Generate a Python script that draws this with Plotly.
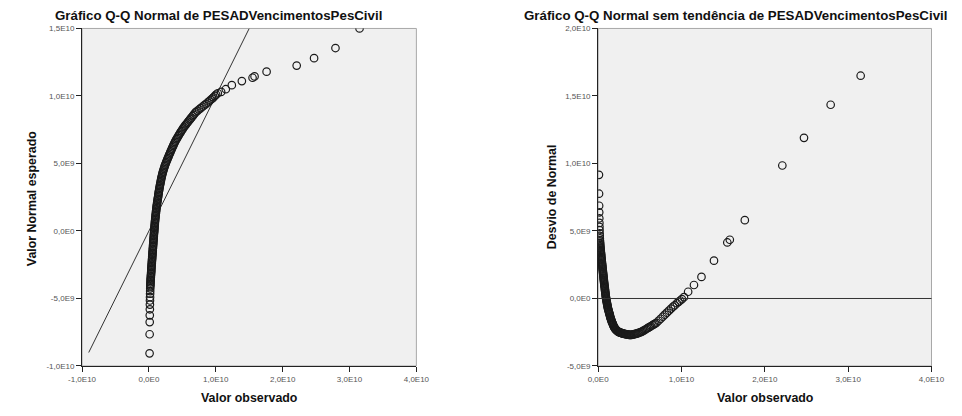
import plotly.graph_objects as go

# ---- data (values in billions) ----
# expected normal value (y) and observed value (x), sorted by rank
expected_bn = [
    -9.06, -7.65, -6.75, -6.25, -5.80, -5.45, -5.15, -4.90, -4.65, -4.45, -4.25, -4.10,
    -4.0, -3.9, -3.8, -3.7, -3.6, -3.5, -3.4, -3.3, -3.2, -3.1,
    -3.0, -2.9, -2.8, -2.7, -2.6, -2.5, -2.4, -2.3, -2.2, -2.1,
    -2.0, -1.9, -1.8, -1.7, -1.6, -1.5, -1.4, -1.3, -1.2, -1.1,
    -1.0, -0.9, -0.8, -0.7, -0.6, -0.5, -0.4, -0.3, -0.2, -0.1,
    0.0, 0.1, 0.2, 0.3, 0.4, 0.5, 0.6, 0.7, 0.8, 0.9,
    1.0, 1.1, 1.2, 1.3, 1.4, 1.5, 1.6, 1.7, 1.8, 1.9,
    2.0, 2.1, 2.2, 2.3, 2.4, 2.5, 2.6, 2.7, 2.8, 2.9,
    3.0, 3.1, 3.2, 3.3, 3.4, 3.5, 3.6, 3.7, 3.8, 3.9,
    4.0, 4.1, 4.2, 4.3, 4.4, 4.5, 4.6, 4.7, 4.8, 4.9,
    5.0, 5.1, 5.2, 5.3, 5.4, 5.5, 5.6, 5.7, 5.8, 5.9,
    6.0, 6.1, 6.2, 6.3, 6.4, 6.5, 6.6, 6.7, 6.8, 6.9,
    7.0, 7.1, 7.2, 7.3, 7.4, 7.5, 7.6, 7.7, 7.8, 7.9,
    8.0, 8.1, 8.2, 8.3, 8.4, 8.5, 8.6, 8.7, 8.8, 8.9,
    9.0, 9.1, 9.2, 9.3, 9.4, 9.5, 9.6, 9.7, 9.8, 9.9,
    10.0, 10.1, 10.2, 10.3,
    10.50, 10.80, 11.10, 11.35, 11.45, 11.80, 12.25, 12.80, 13.55, 15.00,
]
observed_bn = [
    0.10, 0.11, 0.12, 0.13, 0.14, 0.15, 0.16, 0.17, 0.18, 0.19, 0.20, 0.21,
    0.22, 0.23, 0.24, 0.25, 0.26, 0.27, 0.29, 0.30, 0.32, 0.33,
    0.35, 0.36, 0.37, 0.38, 0.40, 0.41, 0.43, 0.44, 0.46, 0.47,
    0.49, 0.50, 0.52, 0.53, 0.55, 0.56, 0.58, 0.59, 0.61, 0.62,
    0.64, 0.65, 0.67, 0.68, 0.70, 0.71, 0.73, 0.74, 0.76, 0.78,
    0.80, 0.81, 0.83, 0.84, 0.86, 0.88, 0.89, 0.91, 0.93, 0.95,
    0.97, 0.99, 1.01, 1.04, 1.06, 1.08, 1.11, 1.13, 1.15, 1.18,
    1.21, 1.24, 1.27, 1.30, 1.33, 1.36, 1.40, 1.42, 1.45, 1.48,
    1.52, 1.55, 1.59, 1.62, 1.66, 1.70, 1.74, 1.78, 1.82, 1.86,
    1.90, 1.95, 2.00, 2.05, 2.11, 2.17, 2.23, 2.30, 2.36, 2.43,
    2.51, 2.59, 2.67, 2.75, 2.84, 2.92, 3.00, 3.09, 3.18, 3.26,
    3.35, 3.44, 3.53, 3.62, 3.71, 3.80, 3.91, 4.00, 4.12, 4.24,
    4.36, 4.48, 4.60, 4.72, 4.85, 4.98, 5.11, 5.25, 5.40, 5.56,
    5.72, 5.88, 6.04, 6.20, 6.36, 6.52, 6.68, 6.84, 7.00, 7.25,
    7.50, 7.75, 8.00, 8.25, 8.50, 8.75, 9.00, 9.20, 9.45, 9.65,
    9.85, 10.05, 10.30, 10.80,
    11.50, 12.40, 13.90, 15.50, 15.80, 17.60, 22.10, 24.70, 27.90, 31.50,
]
ref_line_bn = [-9.0, 15.0]   # identity reference line (y = x)

left_x_ticks = [-1e10, 0, 1e10, 2e10, 3e10, 4e10]
left_x_text = ["-1,0E10", "0,0E0", "1,0E10", "2,0E10", "3,0E10", "4,0E10"]
left_y_ticks = [-1e10, -5e9, 0, 5e9, 1e10, 1.5e10]
left_y_text = ["-1,0E10", "-5,0E9", "0,0E0", "5,0E9", "1,0E10", "1,5E10"]
right_x_ticks = [0, 1e10, 2e10, 3e10, 4e10]
right_x_text = ["0,0E0", "1,0E10", "2,0E10", "3,0E10", "4,0E10"]
right_y_ticks = [-5e9, 0, 5e9, 1e10, 1.5e10, 2e10]
right_y_text = ["-5,0E9", "0,0E0", "5,0E9", "1,0E10", "1,5E10", "2,0E10"]

title_left = "Gráfico Q-Q Normal de PESADVencimentosPesCivil"
title_right = "Gráfico Q-Q Normal sem tendência de PESADVencimentosPesCivil"
xlabel = "Valor observado"
ylabel_left = "Valor Normal esperado"
ylabel_right = "Desvio de Normal"

# ---- derived ----
obs = [v * 1e9 for v in observed_bn]
exp_ = [v * 1e9 for v in expected_bn]
dev = [o - e for o, e in zip(obs, exp_)]
ref = [v * 1e9 for v in ref_line_bn]

W, H = 962, 416
FONT = "Liberation Sans"
marker = dict(symbol="circle-open", size=7.5, color="#1a1a1a", line=dict(width=1.2))

fig = go.Figure()
fig.add_trace(go.Scatter(x=ref, y=ref, mode="lines", line=dict(color="#333", width=1),
                         xaxis="x", yaxis="y", hoverinfo="skip"))
fig.add_trace(go.Scatter(x=obs, y=exp_, mode="markers", marker=marker, xaxis="x", yaxis="y"))
fig.add_trace(go.Scatter(x=obs, y=dev, mode="markers", marker=marker, xaxis="x2", yaxis="y2"))

ydom = [1 - 370 / H, 1 - 25 / H]
axis_common = dict(showgrid=False, zeroline=False, showline=True, linecolor="#222", linewidth=1,
                   ticks="outside", ticklen=5, tickcolor="#222", tickwidth=1,
                   tickfont=dict(family=FONT, size=8, color="#555"), mirror=False)

fig.update_layout(
    width=W, height=H, margin=dict(l=0, r=0, t=0, b=0),
    paper_bgcolor="white", plot_bgcolor="#f0f0f0", showlegend=False,
    font=dict(family=FONT),
    xaxis=dict(domain=[70 / W, 414 / W], range=[-1e10, 4e10], tickvals=left_x_ticks,
               ticktext=left_x_text, anchor="y", **axis_common),
    yaxis=dict(domain=ydom, range=[-1e10, 1.5e10], tickvals=left_y_ticks,
               ticktext=left_y_text, anchor="x", **axis_common),
    xaxis2=dict(domain=[601 / W, 944 / W], range=[0, 4e10], tickvals=right_x_ticks,
                ticktext=right_x_text, anchor="y2", **axis_common),
    yaxis2=dict(domain=ydom, range=[-5e9, 2e10], tickvals=right_y_ticks,
                ticktext=right_y_text, anchor="x2", **axis_common),
)

# frame (top/right lighter)
for xr, yr in (("x", "y"), ("x2", "y2")):
    fig.add_shape(type="rect", xref=f"{xr} domain", yref=f"{yr} domain", x0=0, x1=1, y0=0, y1=1,
                  line=dict(color="#a8a8a8", width=1), layer="below")
# horizontal zero line on detrended plot
fig.add_shape(type="line", xref="x2 domain", yref="y2", x0=0, x1=1, y0=0, y1=0,
              line=dict(color="#333", width=1))

def ann(text, x, y, size, bold=False, angle=0):
    fig.add_annotation(text=f"<b>{text}</b>" if bold else text, x=x / W, y=1 - y / H,
                       xref="paper", yref="paper", showarrow=False, textangle=angle,
                       xanchor="center", yanchor="middle",
                       font=dict(family=FONT, size=size, color="#111"))

ann(title_left, 210, 12, 13.3, bold=True)
ann(title_right, 742, 12, 13.3, bold=True)
ann(xlabel, 242, 403, 12.4, bold=True)
ann(xlabel, 773, 403, 12.4, bold=True)
ann(ylabel_left, 18, 199, 12.4, bold=True, angle=-90)
ann(ylabel_right, 553, 197, 12.4, bold=True, angle=-90)

fig.write_html("out.html")
